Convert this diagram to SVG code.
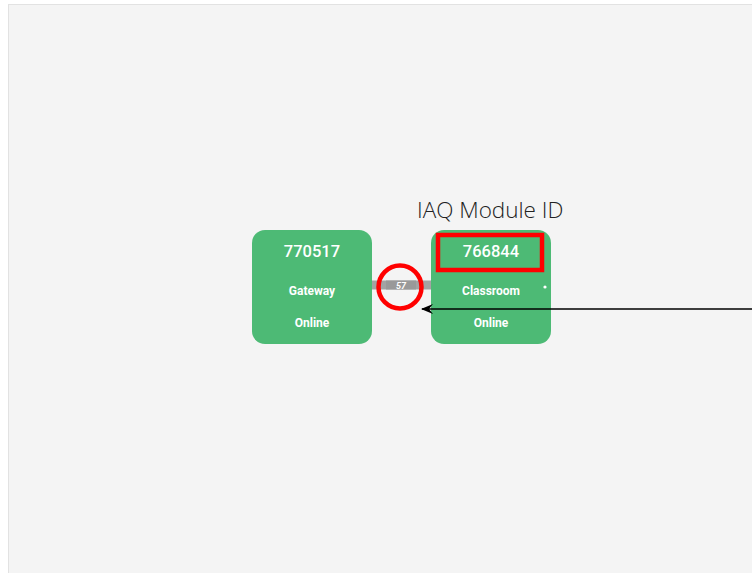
<svg xmlns="http://www.w3.org/2000/svg" width="752" height="573" viewBox="0 0 752 573">
  <style>
    .node-box { fill: #4dba75; }
    .node-id { font-family: Roboto, "Liberation Sans", sans-serif; font-size: 16.5px; font-weight: 500; fill: #ffffff; text-anchor: middle; }
    .node-label { font-family: Roboto, "Liberation Sans", sans-serif; font-size: 12px; font-weight: 700; fill: #ffffff; text-anchor: middle; }
    .link-bar { fill: #a3a3a3; }
    .link-label { font-family: Roboto, "Liberation Sans", sans-serif; font-size: 9px; font-weight: 700; font-style: italic; fill: #ffffff; text-anchor: middle; }
    .mark { fill: none; stroke: #ff0000; stroke-width: 4.5; }
    .caption { font-family: "Open Sans", "Liberation Sans", sans-serif; font-size: 22.5px; font-weight: 300; fill: #222222; }
    .pointer { stroke: #000000; stroke-width: 1.5; fill: none; }
  </style>
  <defs>
    <marker id="arrowhead" viewBox="0 0 12 10" refX="11" refY="5" markerWidth="12" markerHeight="10" markerUnits="userSpaceOnUse" orient="auto">
      <path d="M0,0 L12,5 L0,10 L4,5 Z" fill="#000000"/>
    </marker>
  </defs>

  <!-- page and canvas panel -->
  <rect x="0" y="0" width="752" height="573" fill="#ffffff"/>
  <rect x="8.5" y="4.5" width="750" height="575" fill="#f4f4f4" stroke="#e2e2e2" stroke-width="1"/>

  <!-- connectors -->
  <g id="connectors">
    <rect class="link-bar" x="370" y="280.5" width="64" height="9"/>
    <rect x="386" y="280.5" width="30" height="9" fill="#999999"/>
    <text class="link-label" x="401" y="288.5">57</text>
  </g>

  <!-- gateway node -->
  <g id="node-770517">
    <rect class="node-box" x="252" y="230" width="120" height="114" rx="13"/>
    <text class="node-id" x="312" y="257">770517</text>
    <text class="node-label" x="312" y="294.5">Gateway</text>
    <text class="node-label" x="312" y="327">Online</text>
  </g>

  <!-- classroom node -->
  <g id="node-766844">
    <rect class="node-box" x="431" y="230" width="120" height="114" rx="13"/>
    <text class="node-id" x="491" y="257">766844</text>
    <text class="node-label" x="491" y="294.5">Classroom</text>
    <text class="node-label" x="491" y="327">Online</text>
    <circle cx="545" cy="287" r="1.6" fill="#ffffff"/>
  </g>

  <!-- annotations -->
  <g id="annotations">
    <text class="caption" x="417" y="218">IAQ Module ID</text>
    <rect class="mark" x="438" y="235" width="104" height="35"/>
    <circle class="mark" cx="400" cy="287" r="21.5"/>
    <line class="pointer" x1="752" y1="309" x2="422" y2="309" marker-end="url(#arrowhead)"/>
  </g>
</svg>
